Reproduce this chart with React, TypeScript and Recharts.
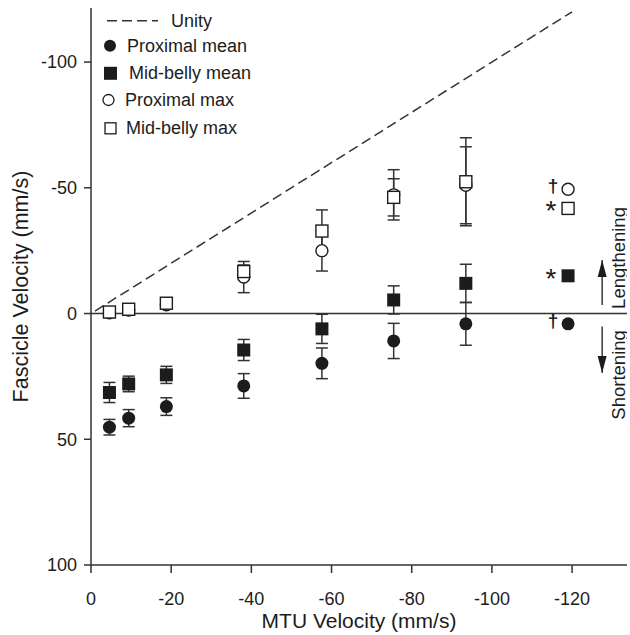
import React from 'react';
import { ScatterChart, Scatter, XAxis, YAxis, ErrorBar, ReferenceLine, Legend } from 'recharts';

// ---- data ----
const mtuVelocity = [-4.6, -9.4, -18.8, -38.1, -57.6, -75.5, -93.5];
const proximalMean = [45.2, 41.6, 37.0, 28.8, 19.8, 10.9, 4.1];
const proximalMeanErr = [3.1, 3.4, 3.5, 4.9, 6.1, 7.0, 8.5];
const midBellyMean = [31.4, 28.0, 24.4, 14.5, 6.1, -5.4, -12.0];
const midBellyMeanErr = [4.0, 3.1, 3.4, 4.2, 5.8, 5.6, 7.6];
const proximalMax = [-0.3, -1.4, -3.5, -14.5, -25.0, -47.2, -51.0];
const proximalMaxErr = [1, 1, 1, 6.2, 8.1, 10.0, 15.3];
const midBellyMax = [-0.6, -1.7, -4.1, -16.7, -32.8, -46.2, -52.4];
const midBellyMaxErr = [1, 1, 1, 2.6, 8.4, 7.4, 17.5];

// peak column (no error bars)
const peakMtu = -119;
const peakProximalMean = 4.1;
const peakMidBellyMean = -15;
const peakProximalMax = -49.4;
const peakMidBellyMax = -41.8;
const peakMarks = [
  { y: peakProximalMax, sym: '†' },
  { y: peakMidBellyMax, sym: '*' },
  { y: peakMidBellyMean, sym: '*' },
  { y: peakProximalMean, sym: '†' },
];

const unity = [-1, -120];
const xTicks = [0, -20, -40, -60, -80, -100, -120];
const yTicks = [-100, -50, 0, 50, 100];
const xDomain = [-133.7, 0];
const yDomain = [-121.5, 100];

const arrowX = -127.5;
const arrows = [
  { base: -3.4, tip: -21.3, dir: 'up' },
  { base: 5.2, tip: 23.6, dir: 'down' },
];
const sideLabelX = -131.6;
const sideLabels = [
  { y: -22.1, text: 'Lengthening' },
  { y: 24.4, text: 'Shortening' },
];

const legendItems = ['Unity', 'Proximal mean', 'Mid-belly mean', 'Proximal max', 'Mid-belly max'];

const FONT = '"Liberation Sans", Arial, Helvetica, sans-serif';
const INK = '#1c1c1c';
const LINE = '#333';

const mk = (ys: number[], errs?: number[]) =>
  ys.map((y, i) => ({ x: mtuVelocity[i], y, err: errs ? errs[i] : 0 }));

const dProxMean = mk(proximalMean, proximalMeanErr);
const dMidMean = mk(midBellyMean, midBellyMeanErr);
const dProxMax = mk(proximalMax, proximalMaxErr);
const dMidMax = mk(midBellyMax, midBellyMaxErr);

const FilledCircle = (p: any) => <circle cx={p.cx} cy={p.cy} r={6.5} fill={INK} />;
const FilledSquare = (p: any) => <rect x={p.cx - 6.5} y={p.cy - 6.5} width={13} height={13} fill={INK} />;
const OpenCircle = (p: any) => <circle cx={p.cx} cy={p.cy} r={6} fill="#fff" stroke={INK} strokeWidth={1.4} />;
const OpenSquare = (p: any) => (
  <rect x={p.cx - 6} y={p.cy - 6} width={12} height={12} fill="#fff" stroke={INK} strokeWidth={1.4} />
);

const MarkText = (p: any) => {
  const isStar = p.payload.sym === '*';
  if (isStar) {
    return (
      <text
        x={p.cx - 17}
        y={p.cy + 12}
        textAnchor="middle"
        fontFamily={FONT}
        fontSize={28}
        fill={INK}
      >
        *
      </text>
    );
  }
  return (
    <text
      x={p.cx - 15}
      y={p.cy + 3}
      textAnchor="middle"
      fontFamily={FONT}
      fontWeight="bold"
      fontSize={19}
      fill={INK}
    >
      †
    </text>
  );
};

const ArrowHead = (p: any) => {
  const up = p.payload.dir === 'up';
  const { cx, cy } = p;
  const h = 17;
  const w = 4.5;
  const by = up ? cy + h : cy - h;
  return <polygon points={`${cx},${cy} ${cx - w},${by} ${cx + w},${by}`} fill={INK} />;
};

const SideText = (p: any) => (
  <text
    x={p.cx}
    y={p.cy}
    transform={`rotate(-90 ${p.cx} ${p.cy})`}
    textAnchor="middle"
    dominantBaseline="central"
    fontFamily={FONT}
    fontSize={18.5}
    fill={INK}
  >
    {p.payload.text}
  </text>
);

const LegendBox = () => {
  const rows = [20.7, 45.7, 73.3, 100, 128.3];
  return (
    <svg width={260} height={145} style={{ display: 'block' }}>
      <line x1={107} x2={158} y1={rows[0]} y2={rows[0]} stroke={LINE} strokeWidth={1.5} strokeDasharray="10 5" />
      <text x={171} y={rows[0]} dominantBaseline="central" fontFamily={FONT} fontSize={18} fill={INK}>{legendItems[0]}</text>
      <circle cx={110} cy={rows[1]} r={6} fill={INK} />
      <text x={127} y={rows[1]} dominantBaseline="central" fontFamily={FONT} fontSize={18} fill={INK}>{legendItems[1]}</text>
      <rect x={104} y={rows[2] - 6.5} width={13} height={13} fill={INK} />
      <text x={129} y={rows[2]} dominantBaseline="central" fontFamily={FONT} fontSize={18} fill={INK}>{legendItems[2]}</text>
      <circle cx={108.5} cy={rows[3]} r={5.5} fill="#fff" stroke={INK} strokeWidth={1.3} />
      <text x={125} y={rows[3]} dominantBaseline="central" fontFamily={FONT} fontSize={18} fill={INK}>{legendItems[3]}</text>
      <rect x={105} y={rows[4] - 5.5} width={11} height={11} fill="#fff" stroke={INK} strokeWidth={1.3} />
      <text x={126} y={rows[4]} dominantBaseline="central" fontFamily={FONT} fontSize={18} fill={INK}>{legendItems[4]}</text>
    </svg>
  );
};

const XTitle = (props: any) => {
  const vb = props.viewBox || {};
  return (
    <text x={vb.x + vb.width / 2} y={628} textAnchor="middle" fontFamily={FONT} fontSize={21} fill={INK}>
      MTU Velocity (mm/s)
    </text>
  );
};

const YTitle = (props: any) => {
  const vb = props.viewBox || {};
  const cy = vb.y + vb.height / 2;
  return (
    <text
      x={21}
      y={cy}
      transform={`rotate(-90 21 ${cy})`}
      textAnchor="middle"
      dominantBaseline="central"
      fontFamily={FONT}
      fontSize={21.5}
      fill={INK}
    >
      Fascicle Velocity (mm/s)
    </text>
  );
};

export default function App() {
  const tickStyle = { fill: INK, fontSize: 18, fontFamily: FONT };
  return (
    <div style={{ position: 'absolute', left: 0, top: 0, width: 630, height: 635, background: '#fff' }}>
      <ScatterChart width={630} height={635} margin={{ top: 8, right: 3, bottom: 0, left: 0 }}>
        <XAxis
          type="number"
          dataKey="x"
          domain={xDomain}
          allowDataOverflow
          reversed
          ticks={xTicks}
          height={70}
          tickSize={8}
          tickMargin={19}
          stroke={LINE}
          strokeWidth={1.5}
          tick={tickStyle}
          label={<XTitle />}
        />
        <YAxis
          type="number"
          dataKey="y"
          domain={yDomain}
          allowDataOverflow
          reversed
          ticks={yTicks}
          width={91}
          tickSize={7}
          tickMargin={7}
          stroke={LINE}
          strokeWidth={1.5}
          tick={tickStyle}
          label={<YTitle />}
        />
        <ReferenceLine y={0} stroke={LINE} strokeWidth={1.5} />
        <ReferenceLine
          segment={[{ x: unity[0], y: unity[0] }, { x: unity[1], y: unity[1] }]}
          stroke={LINE}
          strokeWidth={1.5}
          strokeDasharray="10 5"
        />
        {arrows.map((a, i) => (
          <ReferenceLine
            key={i}
            segment={[{ x: arrowX, y: a.base }, { x: arrowX, y: a.tip }]}
            stroke={INK}
            strokeWidth={1.3}
          />
        ))}
        <Scatter data={dProxMean} shape={FilledCircle} isAnimationActive={false}>
          <ErrorBar dataKey="err" direction="y" width={6} stroke={LINE} strokeWidth={1.5} />
        </Scatter>
        <Scatter data={dMidMean} shape={FilledSquare} isAnimationActive={false}>
          <ErrorBar dataKey="err" direction="y" width={6} stroke={LINE} strokeWidth={1.5} />
        </Scatter>
        <Scatter data={dProxMax} shape={OpenCircle} isAnimationActive={false}>
          <ErrorBar dataKey="err" direction="y" width={6} stroke={LINE} strokeWidth={1.5} />
        </Scatter>
        <Scatter data={dMidMax} shape={OpenSquare} isAnimationActive={false}>
          <ErrorBar dataKey="err" direction="y" width={6} stroke={LINE} strokeWidth={1.5} />
        </Scatter>
        <Scatter data={[{ x: peakMtu, y: peakProximalMean }]} shape={FilledCircle} isAnimationActive={false} />
        <Scatter data={[{ x: peakMtu, y: peakMidBellyMean }]} shape={FilledSquare} isAnimationActive={false} />
        <Scatter data={[{ x: peakMtu, y: peakProximalMax }]} shape={OpenCircle} isAnimationActive={false} />
        <Scatter data={[{ x: peakMtu, y: peakMidBellyMax }]} shape={OpenSquare} isAnimationActive={false} />
        <Scatter data={peakMarks.map((m) => ({ x: peakMtu, y: m.y, sym: m.sym }))} shape={MarkText} isAnimationActive={false} />
        <Scatter data={arrows.map((a) => ({ x: arrowX, y: a.tip, dir: a.dir }))} shape={ArrowHead} isAnimationActive={false} />
        <Scatter data={sideLabels.map((s) => ({ x: sideLabelX, y: s.y, text: s.text }))} shape={SideText} isAnimationActive={false} />
        <Legend
          layout="horizontal"
          verticalAlign="middle"
          align="center"
          wrapperStyle={{ position: 'absolute', left: 0, top: 0, width: 260, height: 145, margin: 0, padding: 0 }}
          content={() => <LegendBox />}
        />
      </ScatterChart>
    </div>
  );
}
